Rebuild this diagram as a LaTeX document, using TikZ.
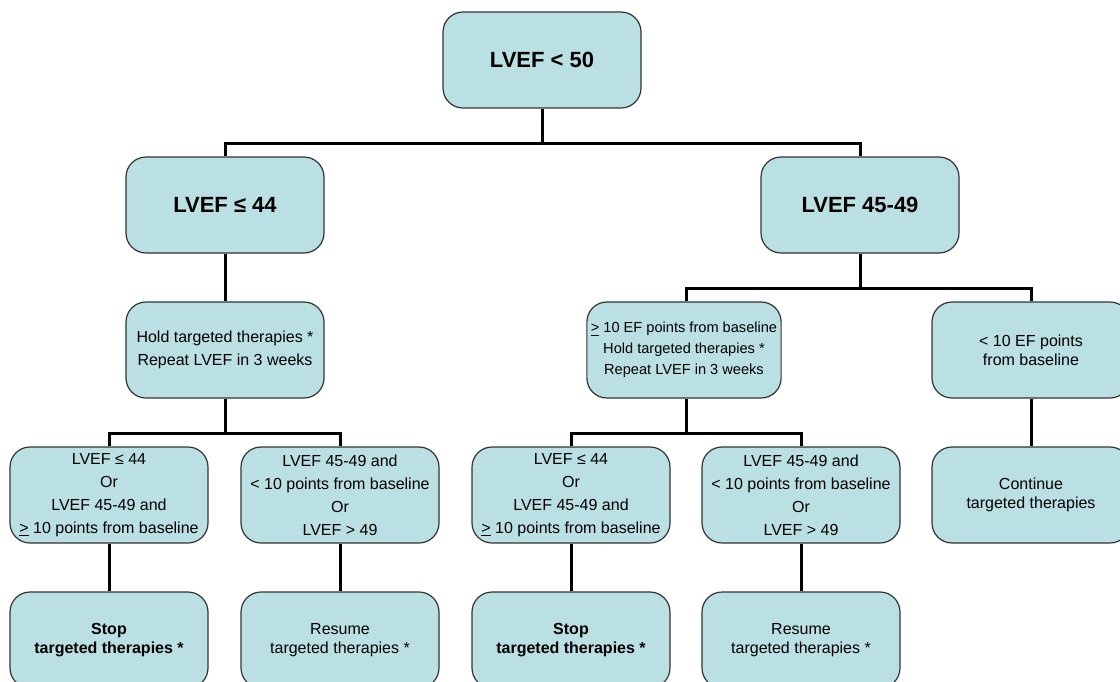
\documentclass[tikz,border=0pt]{standalone}
\usepackage{fontspec}
\setmainfont{Liberation Sans}
\definecolor{boxfill}{RGB}{187,224,227}
\begin{document}
\begin{tikzpicture}[x=0.5pt,y=-0.5pt,
	box/.style={draw=black!80,line width=0.6pt,fill=boxfill,rounded corners=10pt,minimum width=99pt,minimum height=48pt,align=center,inner sep=2pt,font=\fontsize{8}{9.5}\selectfont},
	bigbox/.style={box,font=\fontsize{11}{13}\selectfont\bfseries},
	line/.style={line width=1.5pt}]
	\useasboundingbox (0,0) rectangle (1120,681);
	% first levels
	\node[bigbox] (top) at (542,60) {LVEF < 50};
	\node[bigbox] (low) at (225,205) {LVEF ≤ 44};
	\node[bigbox] (mid) at (860,205) {LVEF 45-49};
	\node[box] (hold) at (225,350) {Hold targeted therapies *\\[2pt] Repeat LVEF in 3 weeks};
	\node[box,minimum width=96pt,font=\fontsize{7.3}{9}\selectfont] (drop) at (684,350) {\underline{>} 10 EF points from baseline\\[1.5pt] Hold targeted therapies *\\[1.5pt] Repeat LVEF in 3 weeks};
	\node[box] (small) at (1031,350) {< 10 EF points\\ from baseline};
	% repeat LVEF results
	\node[box] (badA) at (109,495) {LVEF ≤ 44\\[2pt] Or\\[2pt] LVEF 45-49 and\\[2pt] \underline{>} 10 points from baseline};
	\node[box] (okA) at (340,495) {LVEF 45-49 and\\[2pt] < 10 points from baseline\\[2pt] Or\\[2pt] LVEF > 49};
	\node[box] (badB) at (571,495) {LVEF ≤ 44\\[2pt] Or\\[2pt] LVEF 45-49 and\\[2pt] \underline{>} 10 points from baseline};
	\node[box] (okB) at (801,495) {LVEF 45-49 and\\[2pt] < 10 points from baseline\\[2pt] Or\\[2pt] LVEF > 49};
	\node[box] (cont) at (1031,495) {Continue\\ targeted therapies};
	% outcomes
	\node[box] (stopA) at (109,640) {\textbf{Stop}\\ \textbf{targeted therapies *}};
	\node[box] (resA) at (340,640) {Resume\\ targeted therapies *};
	\node[box] (stopB) at (571,640) {\textbf{Stop}\\ \textbf{targeted therapies *}};
	\node[box] (resB) at (801,640) {Resume\\ targeted therapies *};
	% connectors
	\coordinate (j1) at (542,143);
	\coordinate (j2) at (860,288);
	\coordinate (j3) at (225,433);
	\coordinate (j4) at (686,433);
	\draw[line] (top.south) -- (j1);
	\draw[line] (low.north) |- (j1) -| (mid.north);
	\draw[line] (low.south) -- (hold.north);
	\draw[line] (mid.south) -- (j2);
	\draw[line] (drop.north) ++(2,0) |- (j2) -| (small.north);
	\draw[line] (hold.south) -- (j3);
	\draw[line] (badA.north) |- (j3) -| (okA.north);
	\draw[line] (drop.south) ++(2,0) -- (j4);
	\draw[line] (badB.north) |- (j4) -| (okB.north);
	\draw[line] (small.south) -- (cont.north);
	\draw[line] (badA.south) -- (stopA.north);
	\draw[line] (okA.south) -- (resA.north);
	\draw[line] (badB.south) -- (stopB.north);
	\draw[line] (okB.south) -- (resB.north);
\end{tikzpicture}
\end{document}
